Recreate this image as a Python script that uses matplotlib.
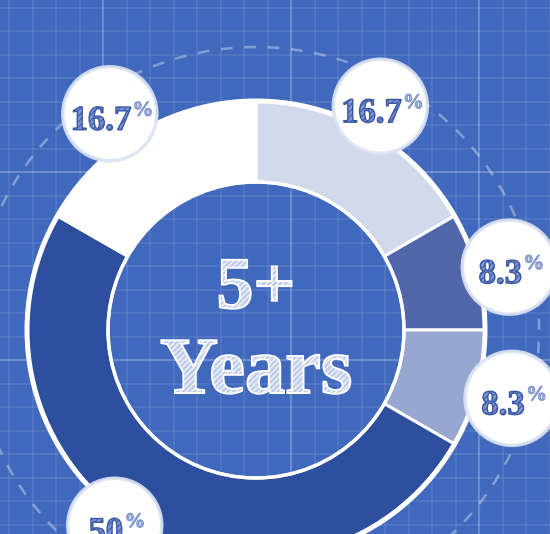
import numpy as np
import matplotlib
matplotlib.use("Agg")
import matplotlib.pyplot as plt
from matplotlib.patches import Circle
from matplotlib import patheffects as pe

# share of people per tenure bucket (5+ years), clockwise from 12 o'clock
shares = [16.7, 8.3, 8.3, 50.0, 16.7]
seg_colors = ["#d2d9ea", "#5067aa", "#97a7d1", "#2d4f9e", "#ffffff"]
center_lines = ["5+", "Years"]

# label bubble placement: (angle nudge in degrees, distance from centre)
label_place = [(1, 256), (-1, 261), (0, 265), (-6, 241), (4, 261)]

W, H = 550, 534
BG = "#4068bd"
CX, CY = 256, 204          # donut centre in pixel units (y up)
R_OUT, R_IN = 229, 148
PX = 72 / 100              # points per pixel at dpi 100

fig = plt.figure(figsize=(W / 100, H / 100), dpi=100)
ax = fig.add_axes([0, 0, 1, 1])
ax.set_facecolor(BG)
fig.patch.set_facecolor(BG)

# blueprint grid
minor = 188 / 8
for x in np.arange(103 % minor, W, minor):
    ax.axvline(x, color="white", alpha=0.11, lw=1.5 * PX, zorder=0)
for y in np.arange((H - 172) % minor, H, minor):
    ax.axhline(y, color="white", alpha=0.11, lw=1.5 * PX, zorder=0)
for x in np.arange(103 % 188, W, 188):
    ax.axvline(x, color="white", alpha=0.17, lw=2.2 * PX, zorder=0)
for y in np.arange((H - 172) % 188, H, 188):
    ax.axhline(y, color="white", alpha=0.17, lw=2.2 * PX, zorder=0)

# dashed guide circle
ax.add_patch(Circle((CX, CY), 283, fill=False, ec=(1, 1, 1, 0.35),
                    lw=2.6 * PX, ls=(0, (4.5, 4.5)), zorder=1))

wedges, _ = ax.pie(shares, colors=seg_colors, startangle=90, counterclock=False,
                   radius=R_OUT, center=(CX, CY),
                   wedgeprops=dict(width=R_OUT - R_IN, edgecolor="white",
                                   linewidth=3 * PX))
for w in wedges:
    w.set_zorder(2)
ax.add_patch(Circle((CX, CY), R_OUT, fill=False, ec="white", lw=5 * PX, zorder=3))
ax.add_patch(Circle((CX, CY), R_IN, fill=False, ec="white", lw=3.5 * PX, zorder=3))

plt.rcParams["hatch.linewidth"] = 0.7


def sketch(fill, hatch_col, edge, lw, hatch="//////"):
    return [pe.PathPatchEffect(facecolor=fill, edgecolor=hatch_col, hatch=hatch, linewidth=0),
            pe.PathPatchEffect(facecolor="none", edgecolor=edge, linewidth=lw)]


# centre caption
ax.text(CX, CY + 22, center_lines[0], ha="center", va="baseline",
        family="Liberation Serif", weight="bold", fontsize=53, zorder=5,
        color="none",
        path_effects=sketch((1, 1, 1, 0.68), "white", "white", 1.4))
ax.text(CX, CY - 63, center_lines[1], ha="center", va="baseline",
        family="Liberation Serif", weight="bold", fontsize=58, zorder=5,
        color="none",
        path_effects=sketch((1, 1, 1, 0.68), "white", "white", 1.4))

# percentage bubbles
for w, val, (dang, dist) in zip(wedges, shares, label_place):
    ang = np.deg2rad((w.theta1 + w.theta2) / 2 + dang)
    bx, by = CX + dist * np.cos(ang), CY + dist * np.sin(ang)
    ax.add_patch(Circle((bx, by), 47, fc="white", ec=(0.86, 0.89, 0.95, 0.9),
                        lw=3.5 * PX, zorder=6))
    num = ax.text(bx - 9, by - 16, f"{val:g}", ha="center", va="baseline",
                  family="Liberation Serif", weight="bold", fontsize=25,
                  zorder=7, color="none",
                  path_effects=sketch("#7f95cf", "#3a57a5", "#3a57a5", 1.0))
    ax.annotate("%", xy=(1, 1), xycoords=num, xytext=(1, 3),
                textcoords="offset points", ha="left", va="top",
                family="Liberation Serif", weight="bold", fontsize=15,
                zorder=7, color="none",
                path_effects=sketch("#aab9e2", "#7d93cc", "#7d93cc", 0.7))

ax.set_xlim(0, W)
ax.set_ylim(0, H)
ax.set_aspect("equal")
ax.axis("off")
fig.savefig("out.png", dpi=100, facecolor=BG)
